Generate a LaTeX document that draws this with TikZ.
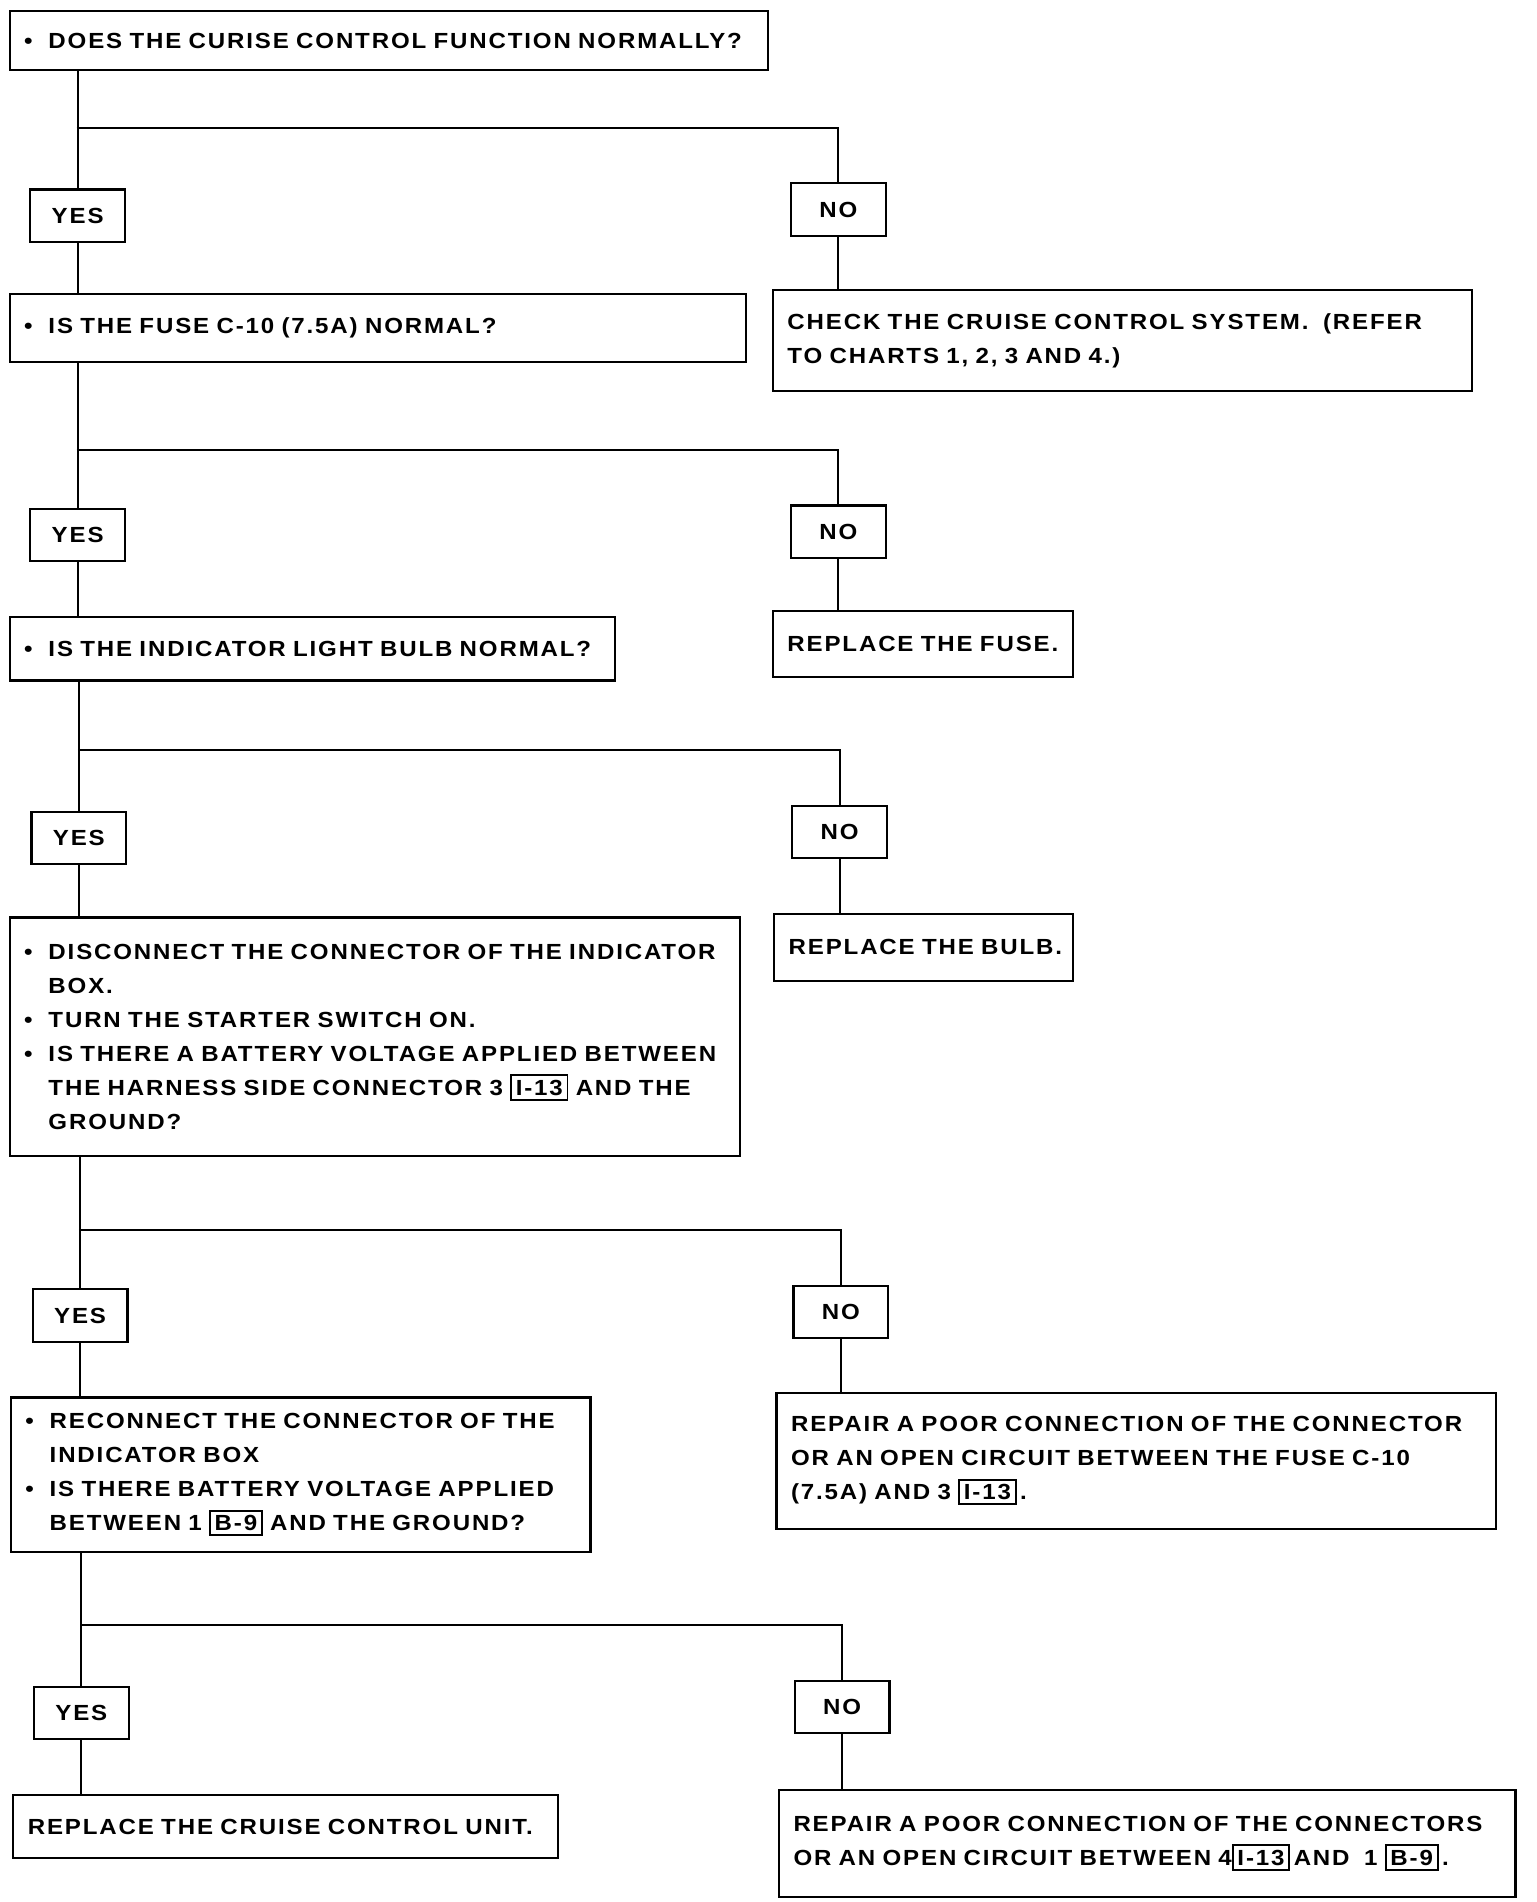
\documentclass[tikz,border=0pt]{standalone}
\usepackage{fontspec}
\setmainfont{Liberation Sans}[FakeStretch=1.1,LetterSpace=8.5]
\newcommand{\boxfont}{\fontsize{9}{14}\selectfont\bfseries}
\newcommand{\bul}{\makebox[10pt][l]{\textbullet}}
\newcommand{\indt}{\hspace*{10pt}}
\newcommand{\conn}[1]{{\setlength{\fboxsep}{1.5pt}\setlength{\fboxrule}{0.8pt}\fbox{#1}}}
\tikzset{
  qbox/.style={draw=black, line width=0.9pt, anchor=north west, inner xsep=6pt, inner ysep=0pt, align=left, font=\boxfont},
  answer/.style={draw=black, line width=0.9pt, anchor=north west, minimum width=39pt, minimum height=21.5pt, inner sep=0pt, font=\boxfont},
  wire/.style={draw=black, line width=0.8pt},
}
\begin{document}
\begin{tikzpicture}[x=0.5pt,y=-0.5pt]
        \useasboundingbox (0,0) rectangle (1264,1565);

        % questions
        \node[qbox, text width=300pt, minimum height=24.5pt] (q1) at (7,8) {\mbox{\bul DOES THE CURISE CONTROL FUNCTION NORMALLY?}};
        \node[qbox, text width=291pt, minimum height=28pt] (q2) at (7,241) {\mbox{\bul IS THE FUSE C-10 (7.5A) NORMAL?}};
        \node[qbox, text width=237pt, minimum height=26pt] (q3) at (7,507) {\mbox{\bul IS THE INDICATOR LIGHT BULB NORMAL?}};
        \node[qbox, text width=288.5pt, minimum height=98pt] (q4) at (7,754) {\mbox{\bul DISCONNECT THE CONNECTOR OF THE INDICATOR}\\\mbox{\indt BOX.}\\\mbox{\bul TURN THE STARTER SWITCH ON.}\\\mbox{\bul IS THERE A BATTERY VOLTAGE APPLIED BETWEEN}\\\mbox{\indt THE HARNESS SIDE CONNECTOR 3 \conn{I-13} AND THE}\\\mbox{\indt GROUND?}};
        \node[qbox, text width=226.5pt, minimum height=63.5pt] (q5) at (8,1149) {\mbox{\bul RECONNECT THE CONNECTOR OF THE}\\\mbox{\indt INDICATOR BOX}\\\mbox{\bul IS THERE BATTERY VOLTAGE APPLIED}\\\mbox{\indt BETWEEN 1 \conn{B-9} AND THE GROUND?}};
        \node[qbox, text width=212pt, minimum height=26pt] (unit) at (10,1476) {\mbox{REPLACE THE CRUISE CONTROL UNIT.}};

        % remedies
        \node[qbox, text width=275.5pt, minimum height=41.5pt] (check) at (635,238) {\mbox{CHECK THE CRUISE CONTROL SYSTEM.\ \ (REFER}\\\mbox{TO CHARTS 1, 2, 3 AND 4.)}};
        \node[qbox, text width=111.5pt, minimum height=27pt] (fuse) at (635,502) {\mbox{REPLACE THE FUSE.}};
        \node[qbox, text width=111pt, minimum height=27.5pt] (bulb) at (636,751) {\mbox{REPLACE THE BULB.}};
        \node[qbox, text width=284pt, minimum height=56pt] (rep1) at (638,1145) {\mbox{REPAIR A POOR CONNECTION OF THE CONNECTOR}\\\mbox{OR AN OPEN CIRCUIT BETWEEN THE FUSE C-10}\\\mbox{(7.5A) AND 3 \conn{I-13}\,.}};
        \node[qbox, text width=291pt, minimum height=44pt] (rep2) at (640,1472) {\mbox{REPAIR A POOR CONNECTION OF THE CONNECTORS}\\\mbox{OR AN OPEN CIRCUIT BETWEEN 4\conn{I-13}\,AND\ \ 1 \conn{B-9}\,.}};

        % answers
        \node[answer] (yes1) at (24,155) {YES};
        \node[answer] (no1) at (650,150) {NO};
        \node[answer] (yes2) at (24,418) {YES};
        \node[answer] (no2) at (650,415) {NO};
        \node[answer] (yes3) at (25,667) {YES};
        \node[answer] (no3) at (651,662) {NO};
        \node[answer] (yes4) at (26,1060) {YES};
        \node[answer] (no4) at (652,1057) {NO};
        \node[answer] (yes5) at (27,1387) {YES};
        \node[answer] (no5) at (653,1382) {NO};

        % branch points
        \coordinate (br1) at (63,105);
        \coordinate (br2) at (63,370);
        \coordinate (br3) at (64,617);
        \coordinate (br4) at (65,1012);
        \coordinate (br5) at (66,1337);

        % yes / no split
        \path [wire] (yes1.north |- q1.south) edge (yes1.north);
        \path [wire] (yes2.north |- q2.south) edge (yes2.north);
        \path [wire] (yes3.north |- q3.south) edge (yes3.north);
        \path [wire] (yes4.north |- q4.south) edge (yes4.north);
        \path [wire] (yes5.north |- q5.south) edge (yes5.north);

        \draw [wire] (br1) -| (no1.north);
        \draw [wire] (br2) -| (no2.north);
        \draw [wire] (br3) -| (no3.north);
        \draw [wire] (br4) -| (no4.north);
        \draw [wire] (br5) -| (no5.north);

        % answer to next box
        \path [wire] (yes1.south) edge (yes1.south |- q2.north);
        \path [wire] (yes2.south) edge (yes2.south |- q3.north);
        \path [wire] (yes3.south) edge (yes3.south |- q4.north);
        \path [wire] (yes4.south) edge (yes4.south |- q5.north);
        \path [wire] (yes5.south) edge (yes5.south |- unit.north);

        \path [wire] (no1.south) edge (no1.south |- check.north);
        \path [wire] (no2.south) edge (no2.south |- fuse.north);
        \path [wire] (no3.south) edge (no3.south |- bulb.north);
        \path [wire] (no4.south) edge (no4.south |- rep1.north);
        \path [wire] (no5.south) edge (no5.south |- rep2.north);
\end{tikzpicture}
\end{document}
